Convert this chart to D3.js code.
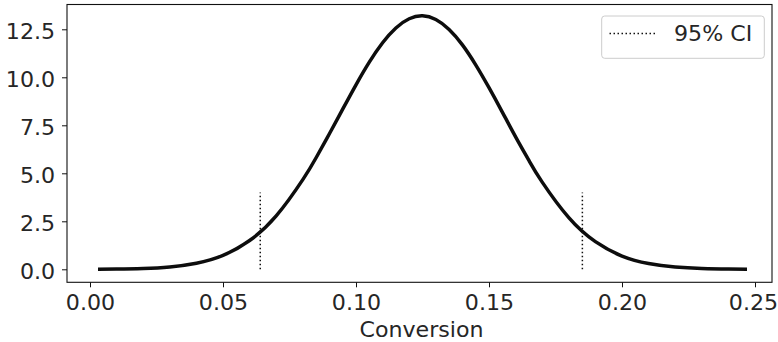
<!DOCTYPE html>
<html><head><meta charset="utf-8">
<script src="https://cdn.jsdelivr.net/npm/d3@7"></script>
<style>body{margin:0;background:#fff}svg{display:block}text{font-family:"DejaVu Sans",sans-serif;fill:#262626}</style>
</head><body>
<script>
const conversion = [0.003,0.01,0.02,0.03,0.04,0.05,0.06,0.07,0.08,0.085,0.09,0.095,0.10,0.105,0.11,0.115,0.12,0.125,0.13,0.135,0.14,0.145,0.15,0.155,0.16,0.165,0.17,0.18,0.19,0.20,0.21,0.22,0.23,0.24,0.247];
const density = [0.006,0.014,0.044,0.124,0.316,0.724,1.50,2.78,4.67,5.81,7.06,8.34,9.61,10.79,11.80,12.57,13.05,13.2,13.01,12.49,11.69,10.65,9.46,8.19,6.90,5.67,4.54,2.69,1.44,0.690,0.299,0.117,0.041,0.013,0.006];
const ciBounds = [0.064, 0.1851];
const ciHeight = 4;
const xTicks = [0.00,0.05,0.10,0.15,0.20,0.25];
const yTicks = [0.0,2.5,5.0,7.5,10.0,12.5];
const legendLabel = "95% CI";
const xLabel = "Conversion";

const W = 778, H = 342;
const L = 67, R = 772, T = 4.5, B = 282.3;
const FS = 20.5, SX = 1.08;
const svg = d3.select("body").append("svg").attr("width", W).attr("height", H);

const x = d3.scaleLinear().domain([0, 0.25]).range([90, 755]);
const y = d3.scaleLinear().domain([0, 12.5]).range([269.3, 29.3]);

const pts = conversion.map((c, i) => [c, density[i]]);
const line = d3.line().x(d => x(d[0])).y(d => y(d[1])).curve(d3.curveNatural);

const plot = svg.append("g");
plot.append("path").datum(pts).attr("d", line).attr("fill", "none")
  .attr("stroke", "#0d0d0d").attr("stroke-width", 3.5).attr("stroke-linejoin", "round");

ciBounds.forEach(b => {
  plot.append("line").attr("x1", x(b)).attr("x2", x(b)).attr("y1", y(0)).attr("y2", y(ciHeight))
    .attr("stroke", "#111").attr("stroke-width", 1.5).attr("stroke-dasharray", "1.5,2.5");
});

// frame
svg.append("rect").attr("x", L).attr("y", T).attr("width", R - L).attr("height", B - T)
  .attr("fill", "none").attr("stroke", "#111").attr("stroke-width", 1.1);

const xAxis = d3.axisBottom(x).tickValues(xTicks).tickFormat(d3.format(".2f")).tickSize(5).tickPadding(8);
const gx = svg.append("g").attr("transform", `translate(0,${B})`).call(xAxis);
gx.select(".domain").remove();
gx.selectAll("text").attr("font-size", FS).attr("fill", "#262626").attr("font-family", "DejaVu Sans")
  .attr("transform", (d, i) => `translate(${d === 0.25 ? -2 : 0},0) scale(${SX},1)`);
gx.selectAll("line").attr("stroke", "#111");

const yAxis = d3.axisLeft(y).tickValues(yTicks).tickFormat(d3.format(".1f")).tickSize(5).tickPadding(6);
const gy = svg.append("g").attr("transform", `translate(${L},0)`).call(yAxis);
gy.select(".domain").remove();
gy.selectAll("text").attr("font-size", FS).attr("fill", "#262626").attr("font-family", "DejaVu Sans")
  .attr("dy", "0.47em").attr("transform", `scale(${SX},1)`);
gy.selectAll("line").attr("stroke", "#111");

svg.append("text").attr("transform", `translate(${x(0.125) - 1},336.7) scale(${SX},1)`)
  .attr("text-anchor", "middle").attr("font-size", FS).text(xLabel);

// legend
const lg = svg.append("g");
lg.append("rect").attr("x", 601.7).attr("y", 16).attr("width", 162.6).attr("height", 42.3)
  .attr("rx", 3).attr("fill", "#fff").attr("stroke", "#cccccc").attr("stroke-width", 1);
lg.append("line").attr("x1", 609.5).attr("x2", 655).attr("y1", 33.5).attr("y2", 33.5)
  .attr("stroke", "#111").attr("stroke-width", 1.5).attr("stroke-dasharray", "1.5,2.5");
lg.append("text").attr("transform", `translate(674,40.7) scale(${SX},1)`).attr("font-size", FS).text(legendLabel);
</script>
</body></html>
